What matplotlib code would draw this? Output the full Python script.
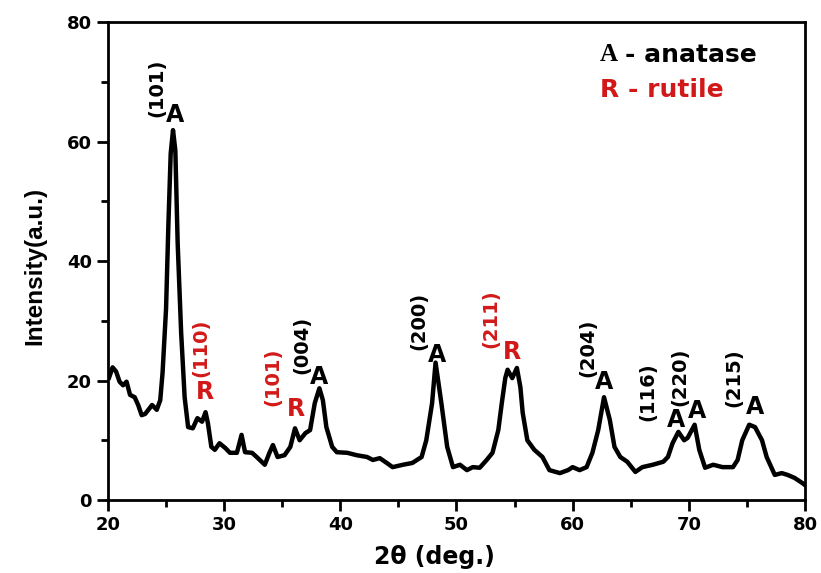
import matplotlib.pyplot as plt

# XRD pattern
two_theta = [20.1, 20.4, 20.7, 21.0, 21.3, 21.6, 21.9, 22.3, 22.6, 22.9, 23.2, 23.4, 23.8, 24.2, 24.5,
             24.7, 25.0, 25.2, 25.4, 25.6, 25.8, 26.0, 26.3, 26.6, 26.9, 27.3, 27.7, 28.1, 28.4, 28.6,
             28.9, 29.2, 29.6, 30.1, 30.5, 31.1, 31.5, 31.8, 32.4, 32.8, 33.5, 33.9, 34.2, 34.6, 35.2,
             35.7, 36.1, 36.5, 37.0, 37.4, 37.8, 38.2, 38.5, 38.8, 39.3, 39.7, 40.6, 41.4, 42.3, 42.8,
             43.4, 44.0, 44.5, 45.4, 46.2, 47.0, 47.4, 47.9, 48.2, 48.7, 49.2, 49.7, 50.3, 50.9, 51.4,
             52.0, 52.6, 53.1, 53.6, 53.9, 54.2, 54.4, 54.8, 55.2, 55.5, 55.7, 56.1, 56.7, 57.4, 58.0,
             58.9, 59.6, 60.0, 60.6, 61.2, 61.7, 62.2, 62.7, 63.2, 63.6, 64.1, 64.7, 65.4, 66.0, 66.9,
             67.8, 68.2, 68.6, 69.1, 69.6, 69.9, 70.5, 70.9, 71.4, 72.1, 72.9, 73.8, 74.2, 74.6, 75.2,
             75.7, 76.3, 76.7, 77.4, 78.0, 78.5, 79.1, 79.8, 80.0]
intensity = [20.5, 22.2, 21.5, 19.8, 19.2, 19.8, 17.6, 17.2, 15.9, 14.2, 14.4, 14.9, 15.9, 15.1, 16.7,
             21.3, 32.0, 46.0, 58.0, 61.9, 58.5, 43.0, 28.0, 17.2, 12.2, 12.0, 13.7, 13.1, 14.7, 12.9,
             8.9, 8.4, 9.5, 8.7, 7.9, 7.9, 10.9, 8.0, 7.9, 7.2, 5.9, 7.9, 9.2, 7.2, 7.5,
             8.9, 12.0, 10.0, 11.2, 11.7, 16.2, 18.7, 16.7, 12.2, 8.9, 8.0, 7.9, 7.5, 7.2, 6.7,
             7.0, 6.2, 5.5, 5.9, 6.2, 7.2, 10.0, 16.2, 23.0, 16.2, 8.9, 5.5, 5.9, 5.0, 5.5,
             5.4, 6.7, 7.9, 11.7, 16.2, 20.4, 21.8, 20.4, 22.1, 18.9, 14.6, 10.0, 8.4, 7.2, 5.0,
             4.5, 5.0, 5.5, 5.0, 5.5, 7.9, 11.7, 17.2, 13.4, 8.9, 7.2, 6.4, 4.7, 5.5, 5.9,
             6.4, 7.2, 9.5, 11.4, 10.0, 10.4, 12.6, 8.4, 5.4, 5.9, 5.5, 5.5, 6.7, 10.0, 12.6,
             12.2, 10.0, 7.2, 4.2, 4.5, 4.2, 3.7, 2.8, 2.5]

# peak annotations: (hkl) text, phase letter, positions
hkl_text = ["(101)", "(110)", "(101)", "(004)", "(200)", "(211)", "(204)", "(116)", "(220)", "(215)"]
phase = ["A", "R", "R", "A", "A", "R", "A", "A", "A", "A"]
hkl_x = [24.2, 28.0, 34.2, 36.7, 46.8, 53.0, 61.3, 66.5, 69.2, 73.9]
hkl_y = [69.0, 25.4, 20.6, 25.9, 30.0, 30.4, 25.5, 18.2, 20.6, 20.4]
letter_x = [25.8, 28.35, 36.2, 38.2, 48.3, 54.8, 62.7, 68.9, 70.7, 75.7]
letter_y = [64.4, 18.1, 15.2, 20.6, 24.3, 24.7, 19.8, 13.4, 14.9, 15.6]

red = "#d21919"
wide = ["DejaVu Sans"]
fnt = ["Liberation Sans", "DejaVu Sans"]

fig = plt.figure(figsize=(8.21, 5.73), dpi=100)
ax = fig.add_axes([0.1315, 0.1274, 0.849, 0.8342])
ax.plot(two_theta, intensity, color="black", lw=3.2, solid_joinstyle="round")

for t, p, hx, hy, lx, ly in zip(hkl_text, phase, hkl_x, hkl_y, letter_x, letter_y):
    c = "black" if p == "A" else red
    ax.text(hx, hy, t, rotation=90, ha="center", va="center", fontsize=14, fontweight="bold",
            color=c, family=wide)
    ax.text(lx, ly, p, ha="center", va="center", fontsize=17, fontweight="bold", color=c,
            family=wide)

# phase key
ax.text(0.706, 0.931, "A", transform=ax.transAxes, fontsize=18, fontweight="bold",
        family=["Liberation Serif", "DejaVu Serif"], va="center", ha="left")
ax.text(0.742, 0.931, "- anatase", transform=ax.transAxes, fontsize=18, fontweight="bold",
        family=wide, va="center", ha="left")
ax.text(0.706, 0.858, "R - rutile", transform=ax.transAxes, fontsize=18, fontweight="bold",
        family=wide, va="center", ha="left", color=red)

ax.set_xlim(20, 80)
ax.set_ylim(0, 80)
ax.set_xticks(range(20, 81, 10))
ax.set_xticks(range(25, 80, 10), minor=True)
ax.set_yticks(range(0, 81, 20))
ax.set_yticks(range(10, 80, 20), minor=True)
ax.tick_params(which="major", direction="out", length=8, width=2, labelsize=13)
ax.tick_params(which="minor", direction="out", length=5, width=2)
for lab in ax.get_xticklabels() + ax.get_yticklabels():
    lab.set_fontweight("bold")
    lab.set_family(wide)
for s in ax.spines.values():
    s.set_linewidth(2)

ax.set_xlabel("2θ (deg.)", fontsize=17, fontweight="bold", family=wide)
ax.xaxis.set_label_coords(0.468, -0.095)
ax.set_ylabel("Intensity(a.u.)", fontsize=17.5, fontweight="bold", family=fnt)
ax.yaxis.set_label_coords(-0.089, 0.49)

plt.savefig("out.png", dpi=100)
